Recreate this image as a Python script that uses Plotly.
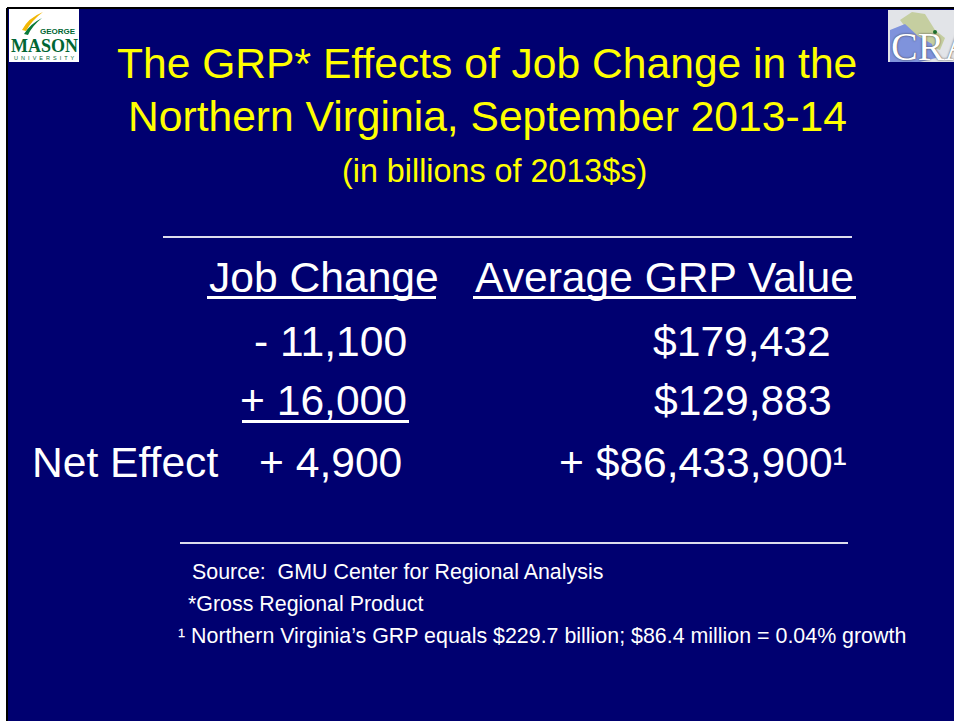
import plotly.graph_objects as go

# slide text
title_lines = ["The GRP* Effects of Job Change in the", "Northern Virginia, September 2013-14"]
subtitle = "(in billions of 2013$s)"
headers = ["Job Change", "Average GRP Value"]
row_labels = ["", "", "Net Effect"]
job_changes = ["- 11,100", "+ 16,000", "+ 4,900"]
grp_values = ["$179,432", "$129,883", "+ $86,433,900\u00b9"]
notes = [
    "Source:  GMU Center for Regional Analysis",
    "*Gross Regional Product",
    "\u00b9 Northern Virginia\u2019s GRP equals $229.7 billion; $86.4 million = 0.04% growth",
]

W, H = 954, 721
NAVY = "#000070"
FONT = "Arial, Liberation Sans, sans-serif"

fig = go.Figure()

shapes = []
annots = []

def txt(x, y, s, size, color="white", xanchor="center", family=FONT, **kw):
    annots.append(dict(x=x, y=y, text=s, showarrow=False, xref="x", yref="y",
                       xanchor=xanchor, yanchor="middle",
                       font=dict(size=size, color=color, family=family, **kw)))

def hline(x0, x1, y, color="white", width=3):
    shapes.append(dict(type="line", xref="x", yref="y", x0=x0, x1=x1, y0=y, y1=y,
                       line=dict(color=color, width=width)))

# slide background + frame
shapes.append(dict(type="rect", xref="x", yref="y", x0=8, x1=W, y0=9, y1=H,
                   fillcolor=NAVY, line=dict(width=0), layer="below"))
hline(7, W, 8, color="black", width=2)
shapes.append(dict(type="line", xref="x", yref="y", x0=7, x1=7, y0=8, y1=H,
                   line=dict(color="black", width=2)))

# title
txt(487, 63, title_lines[0], 42.6, color="#FFFF00")
txt(487, 116, title_lines[1], 42.6, color="#FFFF00")
txt(494, 171, subtitle, 32.3, color="#FFFF00")

# separators
hline(163, 852, 237, color="#dcdcec", width=2)
hline(180, 848, 543, color="#dcdcec", width=2)

# column headers (underlined)
txt(207, 277, headers[0], 42.6, xanchor="left")
txt(473, 277, headers[1], 42.6, xanchor="left")
hline(207, 436, 297.5)
hline(473, 856, 297.5)

# rows
row_y = [341, 400, 462]
job_right = [409, 409, 404]
grp_left = [651, 652, 557]
for i in range(3):
    if row_labels[i]:
        txt(30, row_y[i], row_labels[i], 42.6, xanchor="left")
    txt(job_right[i], row_y[i], job_changes[i], 42.6, xanchor="right")
    txt(grp_left[i], row_y[i], grp_values[i], 42.6, xanchor="left")
hline(242, 409, 421.5)

# footnotes
note_y = [572, 604, 636]
note_x = [190, 186, 176]
for i, n in enumerate(notes):
    txt(note_x[i], note_y[i], n, 21.4, xanchor="left")

# GMU logo (rough)
shapes.append(dict(type="rect", xref="x", yref="y", x0=9, x1=79, y0=9, y1=62,
                   fillcolor="white", line=dict(width=0)))
shapes.append(dict(type="path", xref="x", yref="y",
                   path="M 22 30 Q 28 18 43 12 Q 32 20 26 31 Z",
                   fillcolor="#F2B705", line=dict(width=0)))
shapes.append(dict(type="path", xref="x", yref="y",
                   path="M 24 34 Q 30 24 42 18 Q 32 26 28 35 Z",
                   fillcolor="#0A7A3A", line=dict(width=0)))
txt(58, 31, "<b>GEORGE</b>", 8, color="#006633")
txt(44, 46, "<b>MASON</b>", 18, color="#006633", family="Liberation Serif, serif")
txt(44, 57.5, "U  N  I  V  E  R  S  I  T  Y", 5.5, color="#006633")

# CRA logo (rough)
shapes.append(dict(type="rect", xref="x", yref="y", x0=888, x1=W, y0=10, y1=62,
                   fillcolor="#e2e4e8", line=dict(width=0)))
shapes.append(dict(type="path", xref="x", yref="y",
                   path="M 900 20 L 912 12 L 925 14 L 935 30 L 945 38 L 940 50 L 925 45 L 912 36 Z",
                   fillcolor="#c5cea0", line=dict(width=0)))
shapes.append(dict(type="path", xref="x", yref="y",
                   path="M 890 30 L 905 24 L 918 36 L 932 44 L 936 58 L 920 62 L 890 62 Z",
                   fillcolor="#7f93dc", line=dict(width=0)))
shapes.append(dict(type="circle", xref="x", yref="y", x0=933, x1=937, y0=30, y1=34,
                   fillcolor="#1c6e2c", line=dict(width=0)))
txt(889, 46, "CRA", 40, xanchor="left", family="Liberation Serif, serif",
    shadow="0px 0px 2px #333")

fig.update_layout(
    width=W, height=H,
    margin=dict(l=0, r=0, t=0, b=0),
    paper_bgcolor="white",
    plot_bgcolor="white",
    xaxis=dict(range=[0, W], visible=False, fixedrange=True),
    yaxis=dict(range=[H, 0], visible=False, fixedrange=True),
    shapes=shapes,
    annotations=annots,
    showlegend=False,
)

# page has a default 8px body margin; drop it so the slide sits at the corner
fig.write_html("out.html", config={"displayModeBar": False},
               post_script="document.body.style.margin='0';")
